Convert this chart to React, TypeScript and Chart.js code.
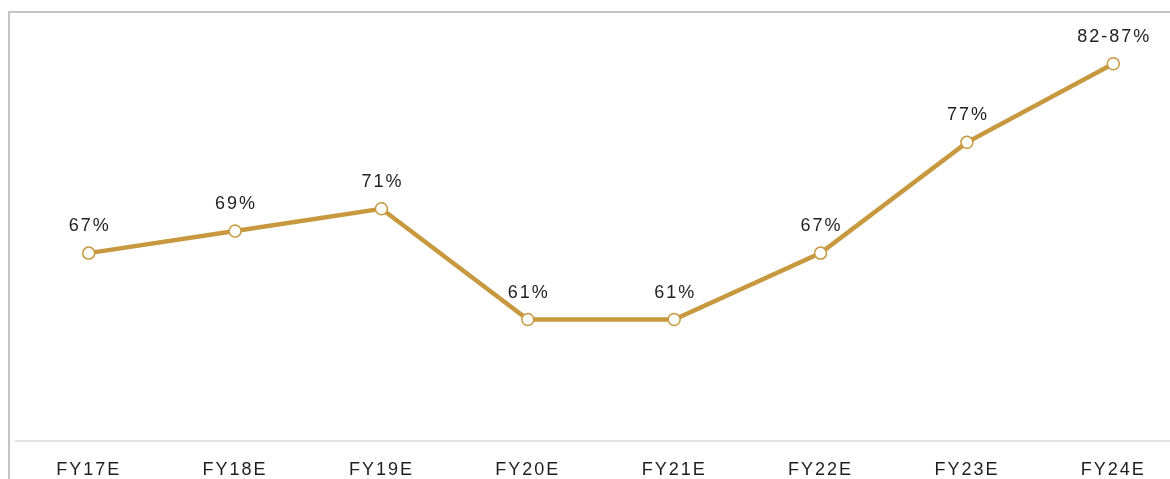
import React, { useEffect, useRef } from "react";
import { Chart, registerables } from "chart.js";

Chart.register(...registerables);

const categories = ["FY17E", "FY18E", "FY19E", "FY20E", "FY21E", "FY22E", "FY23E", "FY24E"];
const values = [67, 69, 71, 61, 61, 67, 77, 84.1];
const valueLabels = ["67%", "69%", "71%", "61%", "61%", "67%", "77%", "82-87%"];

const LINE_COLOR = "rgb(200,152,62)";
const TEXT_COLOR = "#1e1e1e";
const FONT_FAMILY = "'Liberation Sans', Arial, sans-serif";
const SPACING = 2;

const spacingPlugin = {
  id: "spacing",
  beforeDraw(chart: any) {
    (chart.ctx as any).letterSpacing = `${SPACING}px`;
  },
  afterDraw(chart: any) {
    (chart.ctx as any).letterSpacing = "0px";
  },
};

const labelPlugin = {
  id: "valueLabels",
  afterDatasetsDraw(chart: any) {
    const ctx = chart.ctx;
    const meta = chart.getDatasetMeta(0);
    ctx.save();
    (ctx as any).letterSpacing = `${SPACING}px`;
    ctx.font = `18px ${FONT_FAMILY}`;
    ctx.fillStyle = TEXT_COLOR;
    ctx.textAlign = "center";
    ctx.textBaseline = "middle";
    meta.data.forEach((pt: any, i: number) => {
      ctx.fillText(valueLabels[i], pt.x + SPACING / 2, pt.y - 27);
    });
    ctx.restore();
  },
};

export default function App() {
  const ref = useRef<HTMLCanvasElement>(null);
  useEffect(() => {
    if (!ref.current) return;
    const chart = new Chart(ref.current, {
      type: "line",
      data: {
        labels: categories,
        datasets: [
          {
            data: values,
            borderColor: LINE_COLOR,
            borderWidth: 4.5,
            pointRadius: 6,
            pointBorderWidth: 1.5,
            pointBackgroundColor: "#ffffff",
            pointBorderColor: LINE_COLOR,
            tension: 0,
          },
        ],
      },
      options: {
        responsive: false,
        animation: false,
        layout: { padding: { left: 15.5, right: 0, top: 20.5, bottom: 0 } },
        plugins: { legend: { display: false }, tooltip: { enabled: false } },
        scales: {
          x: {
            offset: true,
            grid: { display: false, drawTicks: false },
            border: { display: true, color: "#e3e3e3", width: 2 },
            ticks: {
              color: TEXT_COLOR,
              font: { family: FONT_FAMILY, size: 18 },
              padding: 18,
              maxRotation: 0,
              autoSkip: false,
            },
          },
          y: { display: false, min: 50, max: 88 },
        },
      },
      plugins: [spacingPlugin, labelPlugin],
    });
    return () => chart.destroy();
  }, []);

  return (
    <div
      style={{
        position: "fixed",
        left: 0,
        top: 0,
        width: 1170,
        height: 479,
        overflow: "hidden",
        background: "#ffffff",
      }}
    >
      <div
        style={{
          position: "absolute",
          left: 8,
          top: 11,
          width: 1200,
          height: 500,
          borderTop: "2px solid #c4c4c4",
          borderLeft: "2px solid #c4c4c4",
        }}
      />
      <canvas
        ref={ref}
        width={1194}
        height={499}
        style={{ position: "absolute", left: 0, top: 0, width: 1194, height: 499 }}
      />
    </div>
  );
}
